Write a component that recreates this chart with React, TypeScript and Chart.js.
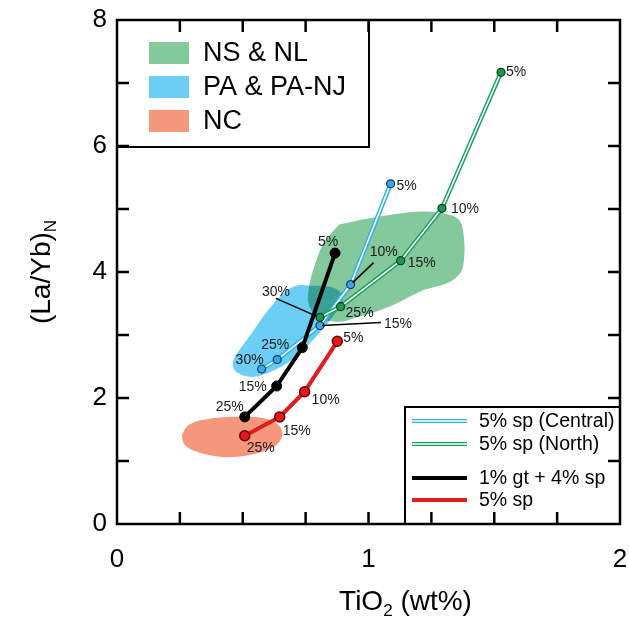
import React, { useEffect, useRef } from 'react';
import { Chart, registerables } from 'chart.js';

// ---------- data ----------
// Melting curves (TiO2 wt%, (La/Yb)N)
const centralX = [1.088, 0.929, 0.807, 0.637, 0.575];
const centralY = [5.40, 3.80, 3.15, 2.61, 2.46];
const centralLabels = ['5%', '10%', '15%', '25%', '30%'];

const northX = [1.527, 1.292, 1.128, 0.889, 0.807];
const northY = [7.17, 5.01, 4.18, 3.45, 3.28];
const northLabels = ['5%', '10%', '15%', '25%', '30%'];

const garnetX = [0.867, 0.737, 0.635, 0.508];
const garnetY = [4.30, 2.80, 2.19, 1.70];
const garnetLabels = ['5%', '', '15%', '25%'];

const spinelX = [0.876, 0.746, 0.647, 0.508];
const spinelY = [2.90, 2.10, 1.70, 1.40];
const spinelLabels = ['5%', '10%', '15%', '25%'];

// Field outlines
const nsnlX = [0.883, 1.022, 1.213, 1.332, 1.372, 1.376, 1.332, 1.213, 1.082, 0.950, 0.883, 0.803, 0.763, 0.763, 0.787, 0.823];
const nsnlY = [4.754, 4.865, 4.960, 4.897, 4.738, 4.086, 3.863, 3.704, 3.450, 3.275, 3.211, 3.275, 3.482, 3.752, 4.118, 4.467];

const panjX = [0.763, 0.843, 0.891, 0.895, 0.855, 0.795, 0.732, 0.660, 0.545, 0.473, 0.461, 0.493, 0.537, 0.596, 0.664, 0.716];
const panjY = [3.784, 3.768, 3.672, 3.514, 3.275, 2.989, 2.734, 2.512, 2.337, 2.417, 2.576, 2.798, 3.037, 3.370, 3.672, 3.784];

const ncX = [0.258, 0.286, 0.366, 0.485, 0.596, 0.648, 0.656, 0.624, 0.525, 0.414, 0.306, 0.266];
const ncY = [1.415, 1.574, 1.669, 1.701, 1.669, 1.542, 1.383, 1.224, 1.097, 1.065, 1.161, 1.272];

const fieldNames = ['NS & NL', 'PA & PA-NJ', 'NC'];
const curveNames = ['5% sp (Central)', '5% sp (North)', '1% gt + 4% sp', '5% sp'];

const xTickLabels = ['0', '1', '2'];
const yTickLabels = ['0', '2', '4', '6', '8'];

// ---------- styles ----------
const FONT = "'Liberation Sans', Arial, Helvetica, sans-serif";
const C_GREEN_FILL = '#84c99c';
const C_BLUE_FILL = '#6ccdf5';
const C_SALMON_FILL = '#f5977a';
const C_BLUE_LINE = '#2fb0ec';
const C_GREEN_LINE = '#18a060';
const C_BLUE_PT = '#39a9e3';
const C_GREEN_PT = '#179a4e';
const C_RED = '#e41a1c';

// label placements (pixel offsets from the point, text centred)
type Place = { dx: number; dy: number; lead?: [number, number, number, number] };
const northPlace: Place[] = [
  { dx: 15, dy: 0 }, { dx: 23, dy: 1 }, { dx: 21, dy: 2 }, { dx: 19, dy: 6 },
  { dx: -44, dy: -25, lead: [-44, -19, -3, -1] },
];
const centralPlace: Place[] = [
  { dx: 16, dy: 2 }, { dx: 33, dy: -32, lead: [23, -22, 2, -2] },
  { dx: 78, dy: -1, lead: [61, -3, 2, 0] }, { dx: -2, dy: -14 }, { dx: -12, dy: -9 },
];
const garnetPlace: Place[] = [{ dx: -7, dy: -11 }, { dx: 0, dy: 0 }, { dx: -24, dy: 1 }, { dx: -15, dy: -10 }];
const spinelPlace: Place[] = [{ dx: 16, dy: -3 }, { dx: 21, dy: 8 }, { dx: 17, dy: 14 }, { dx: 16, dy: 12 }];

const pts = (xs: number[], ys: number[]) => xs.map((x, i) => ({ x, y: ys[i] }));
const closed = (xs: number[], ys: number[]) => {
  const p = pts(xs, ys);
  p.push({ ...p[0] });
  return p;
};

const regionBlend = {
  id: 'regionBlend',
  beforeDatasetDraw(chart: any, args: any) {
    const ds = chart.data.datasets[args.index];
    chart.ctx.globalCompositeOperation = ds.isRegion ? 'multiply' : 'source-over';
  },
  afterDatasetsDraw(chart: any) {
    chart.ctx.globalCompositeOperation = 'source-over';
  },
};
Chart.register(regionBlend);
Chart.register(...registerables);

const decor = {
  id: 'decor',
  afterDraw(chart: any) {
    const ctx: CanvasRenderingContext2D = chart.ctx;
    const { left, right, top, bottom } = chart.chartArea;
    const xs = chart.scales.x;
    const ys = chart.scales.y;
    ctx.save();
    ctx.globalCompositeOperation = 'source-over';

    // point labels
    const drawLabels = (xv: number[], yv: number[], labels: string[], place: Place[]) => {
      ctx.font = `14px ${FONT}`;
      ctx.fillStyle = '#1a1a1a';
      ctx.textAlign = 'center';
      ctx.textBaseline = 'middle';
      labels.forEach((lab, i) => {
        if (!lab) return;
        const px = xs.getPixelForValue(xv[i]);
        const py = ys.getPixelForValue(yv[i]);
        const p = place[i];
        ctx.fillText(lab, px + p.dx, py + p.dy);
        if (p.lead) {
          ctx.beginPath();
          ctx.strokeStyle = '#000';
          ctx.lineWidth = 1.5;
          ctx.moveTo(px + p.lead[0], py + p.lead[1]);
          ctx.lineTo(px + p.lead[2], py + p.lead[3]);
          ctx.stroke();
        }
      });
    };
    drawLabels(northX, northY, northLabels, northPlace);
    drawLabels(centralX, centralY, centralLabels, centralPlace);
    drawLabels(garnetX, garnetY, garnetLabels, garnetPlace);
    drawLabels(spinelX, spinelY, spinelLabels, spinelPlace);

    // top-left legend (fields)
    ctx.lineWidth = 2;
    ctx.strokeStyle = '#000';
    ctx.fillStyle = '#fff';
    ctx.fillRect(left, top, 252, 127);
    ctx.strokeRect(left, top, 252, 127);
    const fieldColors = [C_GREEN_FILL, C_BLUE_FILL, C_SALMON_FILL];
    ctx.font = `27px ${FONT}`;
    ctx.textAlign = 'left';
    ctx.textBaseline = 'middle';
    fieldNames.forEach((n, i) => {
      const cy = top + 33 + i * 34;
      ctx.fillStyle = fieldColors[i];
      ctx.fillRect(left + 32, cy - 11, 40, 22);
      ctx.fillStyle = '#000';
      ctx.fillText(n, left + 86, cy + 1);
    });

    // bottom-right legend (curves)
    const bx = right - 215;
    const by = bottom - 117;
    ctx.fillStyle = '#fff';
    ctx.fillRect(bx, by, 215, 117);
    ctx.lineWidth = 2;
    ctx.strokeStyle = '#000';
    ctx.strokeRect(bx, by, 215, 117);
    const rowsY = [14, 37, 71, 93];
    ctx.font = `19.5px ${FONT}`;
    curveNames.forEach((n, i) => {
      const cy = by + rowsY[i];
      const x0 = bx + 7;
      const x1 = bx + 62;
      ctx.beginPath();
      ctx.moveTo(x0, cy);
      ctx.lineTo(x1, cy);
      if (i < 2) {
        ctx.strokeStyle = i === 0 ? C_BLUE_LINE : C_GREEN_LINE;
        ctx.lineWidth = 4;
        ctx.stroke();
        ctx.beginPath();
        ctx.moveTo(x0, cy);
        ctx.lineTo(x1, cy);
        ctx.strokeStyle = '#fff';
        ctx.lineWidth = 1.5;
        ctx.stroke();
      } else {
        ctx.strokeStyle = i === 2 ? '#000' : C_RED;
        ctx.lineWidth = 4;
        ctx.stroke();
      }
      ctx.fillStyle = '#000';
      ctx.textAlign = 'left';
      ctx.textBaseline = 'middle';
      ctx.fillText(n, bx + 74, cy + 1);
    });

    // frame
    ctx.lineWidth = 2.5;
    ctx.strokeStyle = '#000';
    ctx.strokeRect(left, top, right - left, bottom - top);

    // inward ticks on all four sides
    const TL = 12;
    ctx.lineWidth = 2.5;
    xs.ticks.forEach((t: any) => {
      if (t.value <= xs.min || t.value >= xs.max) return;
      const px = xs.getPixelForValue(t.value);
      ctx.beginPath();
      ctx.moveTo(px, bottom);
      ctx.lineTo(px, bottom - TL);
      ctx.moveTo(px, top);
      ctx.lineTo(px, top + TL);
      ctx.stroke();
    });
    ys.ticks.forEach((t: any) => {
      if (t.value <= ys.min || t.value >= ys.max) return;
      const py = ys.getPixelForValue(t.value);
      ctx.beginPath();
      ctx.moveTo(left, py);
      ctx.lineTo(left + TL, py);
      ctx.moveTo(right, py);
      ctx.lineTo(right - TL, py);
      ctx.stroke();
    });

    // axis titles with subscripts
    ctx.fillStyle = '#000';
    ctx.textBaseline = 'alphabetic';
    ctx.textAlign = 'left';
    const big = `28px ${FONT}`;
    const small = `17px ${FONT}`;
    const drawSub = (parts: [string, boolean][], cx: number, baseY: number) => {
      let w = 0;
      parts.forEach(([s, sub]) => { ctx.font = sub ? small : big; w += ctx.measureText(s).width; });
      let x = cx - w / 2;
      parts.forEach(([s, sub]) => {
        ctx.font = sub ? small : big;
        ctx.fillText(s, x, baseY + (sub ? 6 : 0));
        x += ctx.measureText(s).width;
      });
    };
    drawSub([['TiO', false], ['2', true], [' (wt%)', false]], (left + right) / 2 + 37, 610);
    ctx.save();
    ctx.translate(50, (top + bottom) / 2);
    ctx.rotate(-Math.PI / 2);
    drawSub([['(La/Yb)', false], ['N', true]], 0, 0);
    ctx.restore();

    ctx.restore();
  },
};

export default function App() {
  const ref = useRef<HTMLCanvasElement>(null);
  useEffect(() => {
    if (!ref.current) return;
    const region = (xs: number[], ys: number[], color: string) => ({
      data: closed(xs, ys),
      fill: 'shape',
      backgroundColor: color,
      borderColor: 'rgba(0,0,0,0)',
      borderWidth: 0,
      pointRadius: 0,
      tension: 0.35,
      isRegion: true,
    });
    const outer = (xs: number[], ys: number[], color: string) => ({
      data: pts(xs, ys), borderColor: color, borderWidth: 4.5, pointRadius: 0, fill: false, tension: 0,
    });
    const inner = (xs: number[], ys: number[], ptColor: string, ptBorder: string) => ({
      data: pts(xs, ys), borderColor: '#fff', borderWidth: 1.6, pointRadius: 4,
      pointBackgroundColor: ptColor, pointBorderColor: ptBorder, pointBorderWidth: 1.2, fill: false, tension: 0,
    });
    // Chart.js paints the last dataset first, so the list runs from top layer to bottom layer
    const datasets = [
      {
        data: pts(spinelX, spinelY), borderColor: C_RED, borderWidth: 4, pointRadius: 5,
        pointBackgroundColor: C_RED, pointBorderColor: '#6a0000', pointBorderWidth: 1.5, fill: false, tension: 0,
      },
      {
        data: pts(garnetX, garnetY), borderColor: '#000', borderWidth: 4, pointRadius: 5,
        pointBackgroundColor: '#000', pointBorderColor: '#000', pointBorderWidth: 1, fill: false, tension: 0,
      },
      inner(northX, northY, C_GREEN_PT, '#0b3a1c'),
      outer(northX, northY, C_GREEN_LINE),
      inner(centralX, centralY, C_BLUE_PT, '#123a5a'),
      outer(centralX, centralY, C_BLUE_LINE),
      region(ncX, ncY, C_SALMON_FILL),
      region(panjX, panjY, C_BLUE_FILL),
      region(nsnlX, nsnlY, C_GREEN_FILL),
    ];
    const chart = new Chart(ref.current, {
      type: 'line',
      data: { datasets: datasets as any },
      options: {
        animation: false,
        responsive: false,
        devicePixelRatio: 1,
        layout: { padding: { left: 0, top: 20, right: 9, bottom: 0 } },
        plugins: { legend: { display: false }, tooltip: { enabled: false } },
        scales: {
          x: {
            type: 'linear', min: 0, max: 2,
            grid: { display: false, drawTicks: false },
            border: { display: false },
            ticks: {
              stepSize: 0.25, autoSkip: false, maxRotation: 0, padding: 20,
              color: '#000', font: { family: FONT, size: 26 },
              callback: (v: any) => (xTickLabels.includes(String(v)) ? String(v) : ''),
            },
            afterFit: (s: any) => { s.height = 95; s.paddingLeft = 0; s.paddingRight = 0; },
          },
          y: {
            type: 'linear', min: 0, max: 8,
            grid: { display: false, drawTicks: false },
            border: { display: false },
            ticks: {
              stepSize: 1, autoSkip: false, padding: 10,
              color: '#000', font: { family: FONT, size: 26 },
              callback: (v: any) => (yTickLabels.includes(String(v)) ? String(v) : ''),
            },
            afterFit: (s: any) => { s.width = 117; s.paddingTop = 0; s.paddingBottom = 0; },
          },
        },
      } as any,
      plugins: [decor],
    });
    return () => chart.destroy();
  }, []);
  return (
    <div style={{ position: 'absolute', left: 0, top: 0, width: 629, height: 619, background: '#fff' }}>
      <canvas ref={ref} width={629} height={619} style={{ width: 629, height: 619, display: 'block' }} />
    </div>
  );
}
